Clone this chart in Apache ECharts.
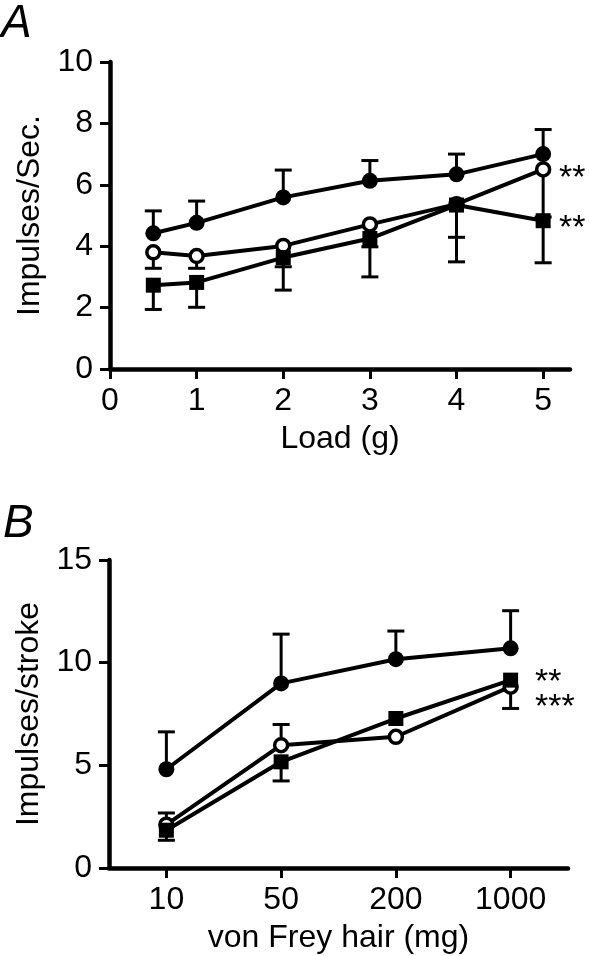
<!DOCTYPE html>
<html>
<head>
<meta charset="utf-8">
<script src="https://cdn.jsdelivr.net/npm/echarts@6/dist/echarts.min.js"></script>
<style>
html,body{margin:0;padding:0;background:#fff;}
#c{width:590px;height:956px;}
</style>
</head>
<body>
<div id="c"></div>
<script>
// ---- Panel A data ----
var loadX = [0.5, 1, 2, 3, 4, 5];
var loadTicks = [0, 1, 2, 3, 4, 5];
var aFilled = [4.42, 4.76, 5.59, 6.13, 6.34, 7.0];
var aFilledHi = [5.15, 5.47, 6.48, 6.79, 7.0, 7.8];
var aOpen = [3.80, 3.68, 4.01, 4.71, 5.37, 6.5];
var aOpenLo = [3.28, 3.28, 3.33, 3.98, 4.29, 4.95];
var aSquare = [2.73, 2.82, 3.63, 4.25, 5.34, 4.83];
var aSquareLo = [1.94, 2.01, 2.57, 3.0, 3.49, 3.46];

// ---- Panel B data ----
var hairCats = ['10', '50', '200', '1000'];
var bFilled = [4.81, 8.99, 10.17, 10.7];
var bFilledHi = [6.63, 11.39, 11.54, 12.53];
var bOpen = [2.11, 5.98, 6.39, 8.83];
var bOpenHi = [2.68, 6.99, null, null];
var bSquare = [1.84, 5.17, 7.28, 9.15];
var bSquareLo = [1.35, 4.24, null, 7.77];

var FONT = 'Liberation Sans';

function errData(xs, ys, ends) {
  var out = [];
  for (var i = 0; i < ys.length; i++) {
    if (ends[i] === null || ends[i] === undefined) continue;
    out.push([xs[i], ys[i], ends[i]]);
  }
  return out;
}
function errRender(params, api) {
  var x = api.value(0), y = api.value(1), e = api.value(2);
  var p1 = api.coord([x, y]), p2 = api.coord([x, e]);
  var w = 8.5;
  return {
    type: 'group',
    children: [
      {type: 'line', shape: {x1: p1[0], y1: p1[1], x2: p2[0], y2: p2[1]}, style: {stroke: '#000', lineWidth: 3}},
      {type: 'line', shape: {x1: p2[0] - w, y1: p2[1], x2: p2[0] + w, y2: p2[1]}, style: {stroke: '#000', lineWidth: 3}}
    ]
  };
}
function pair(xs, ys) { return ys.map(function (v, i) { return [xs[i], v]; }); }

var catIdx = hairCats.map(function (c, i) { return i; });

var lineBase = {type: 'line', lineStyle: {color: '#000', width: 4}, z: 3};
function filledSeries(xi, yi, data) {
  return Object.assign({}, lineBase, {xAxisIndex: xi, yAxisIndex: yi, data: data, symbol: 'circle', symbolSize: 16,
    itemStyle: {color: '#000', borderWidth: 0}, z: 3});
}
function openSeries(xi, yi, data) {
  return Object.assign({}, lineBase, {xAxisIndex: xi, yAxisIndex: yi, data: data, symbol: 'circle', symbolSize: 13,
    itemStyle: {color: '#fff', borderColor: '#000', borderWidth: 3.5}, z: 4});
}
function squareSeries(xi, yi, data) {
  return Object.assign({}, lineBase, {xAxisIndex: xi, yAxisIndex: yi, data: data, symbol: 'rect', symbolSize: 15,
    itemStyle: {color: '#000', borderWidth: 0}, z: 5});
}
function errSeries(xi, yi, data) {
  return {type: 'custom', xAxisIndex: xi, yAxisIndex: yi, data: data, renderItem: errRender, z: 2, silent: true};
}

var axisLine = {show: true, lineStyle: {color: '#000', width: 4.5}};
var axisTick = {show: true, inside: false, length: 10, lineStyle: {color: '#000', width: 3}};
var labelStyle = {color: '#000', fontFamily: FONT, fontSize: 32};
var nameStyle = {color: '#000', fontFamily: FONT, fontSize: 32};

var option = {
  animation: false,
  backgroundColor: '#fff',
  grid: [
    {left: 110, top: 62, width: 460, height: 307},
    {left: 109, top: 560, width: 459, height: 308}
  ],
  xAxis: [
    {gridIndex: 0, type: 'value', min: 0, max: 5.31, interval: 1,
      axisLine: axisLine, splitLine: {show: false},
      axisTick: Object.assign({}, axisTick, {customValues: loadTicks}),
      axisLabel: Object.assign({}, labelStyle, {margin: 16, customValues: loadTicks}),
      name: 'Load (g)', nameLocation: 'middle', nameGap: 54, nameTextStyle: nameStyle},
    {gridIndex: 1, type: 'category', data: hairCats, boundaryGap: true,
      axisLine: axisLine, splitLine: {show: false},
      axisTick: Object.assign({}, axisTick, {alignWithLabel: true}),
      axisLabel: Object.assign({}, labelStyle, {margin: 16}),
      name: 'von Frey hair (mg)', nameLocation: 'middle', nameGap: 54, nameTextStyle: nameStyle}
  ],
  yAxis: [
    {gridIndex: 0, type: 'value', min: 0, max: 10, interval: 2,
      axisLine: axisLine, splitLine: {show: false}, axisTick: axisTick,
      axisLabel: Object.assign({}, labelStyle, {margin: 17}),
      name: 'Impulses/Sec.', nameLocation: 'middle', nameGap: 62, nameTextStyle: nameStyle},
    {gridIndex: 1, type: 'value', min: 0, max: 15, interval: 5,
      axisLine: axisLine, splitLine: {show: false}, axisTick: axisTick,
      axisLabel: Object.assign({}, labelStyle, {margin: 17}),
      name: 'Impulses/stroke', nameLocation: 'middle', nameGap: 62, nameTextStyle: nameStyle}
  ],
  series: [
    errSeries(0, 0, errData(loadX, aFilled, aFilledHi)),
    errSeries(0, 0, errData(loadX, aOpen, aOpenLo)),
    errSeries(0, 0, errData(loadX, aSquare, aSquareLo)),
    filledSeries(0, 0, pair(loadX, aFilled)),
    openSeries(0, 0, pair(loadX, aOpen)),
    squareSeries(0, 0, pair(loadX, aSquare)),

    errSeries(1, 1, errData(catIdx, bFilled, bFilledHi)),
    errSeries(1, 1, errData(catIdx, bOpen, bOpenHi)),
    errSeries(1, 1, errData(catIdx, bSquare, bSquareLo)),
    filledSeries(1, 1, bFilled),
    openSeries(1, 1, bOpen),
    squareSeries(1, 1, bSquare)
  ],
  graphic: [
    {type: 'text', left: 1, top: 1, style: {text: 'A', fontFamily: FONT, fontStyle: 'italic', fontSize: 46, fill: '#000'}},
    {type: 'text', left: 3, top: 501, style: {text: 'B', fontFamily: FONT, fontStyle: 'italic', fontSize: 46, fill: '#000'}},
    {type: 'text', left: 559, top: 162, style: {text: '**', fontFamily: FONT, fontSize: 34, fill: '#000'}},
    {type: 'text', left: 559, top: 212, style: {text: '**', fontFamily: FONT, fontSize: 34, fill: '#000'}},
    {type: 'text', left: 535, top: 666, style: {text: '**', fontFamily: FONT, fontSize: 34, fill: '#000'}},
    {type: 'text', left: 535, top: 691, style: {text: '***', fontFamily: FONT, fontSize: 34, fill: '#000'}}
  ]
};

var chart = echarts.init(document.getElementById('c'), null, {renderer: 'canvas'});
chart.setOption(option);
</script>
</body>
</html>
